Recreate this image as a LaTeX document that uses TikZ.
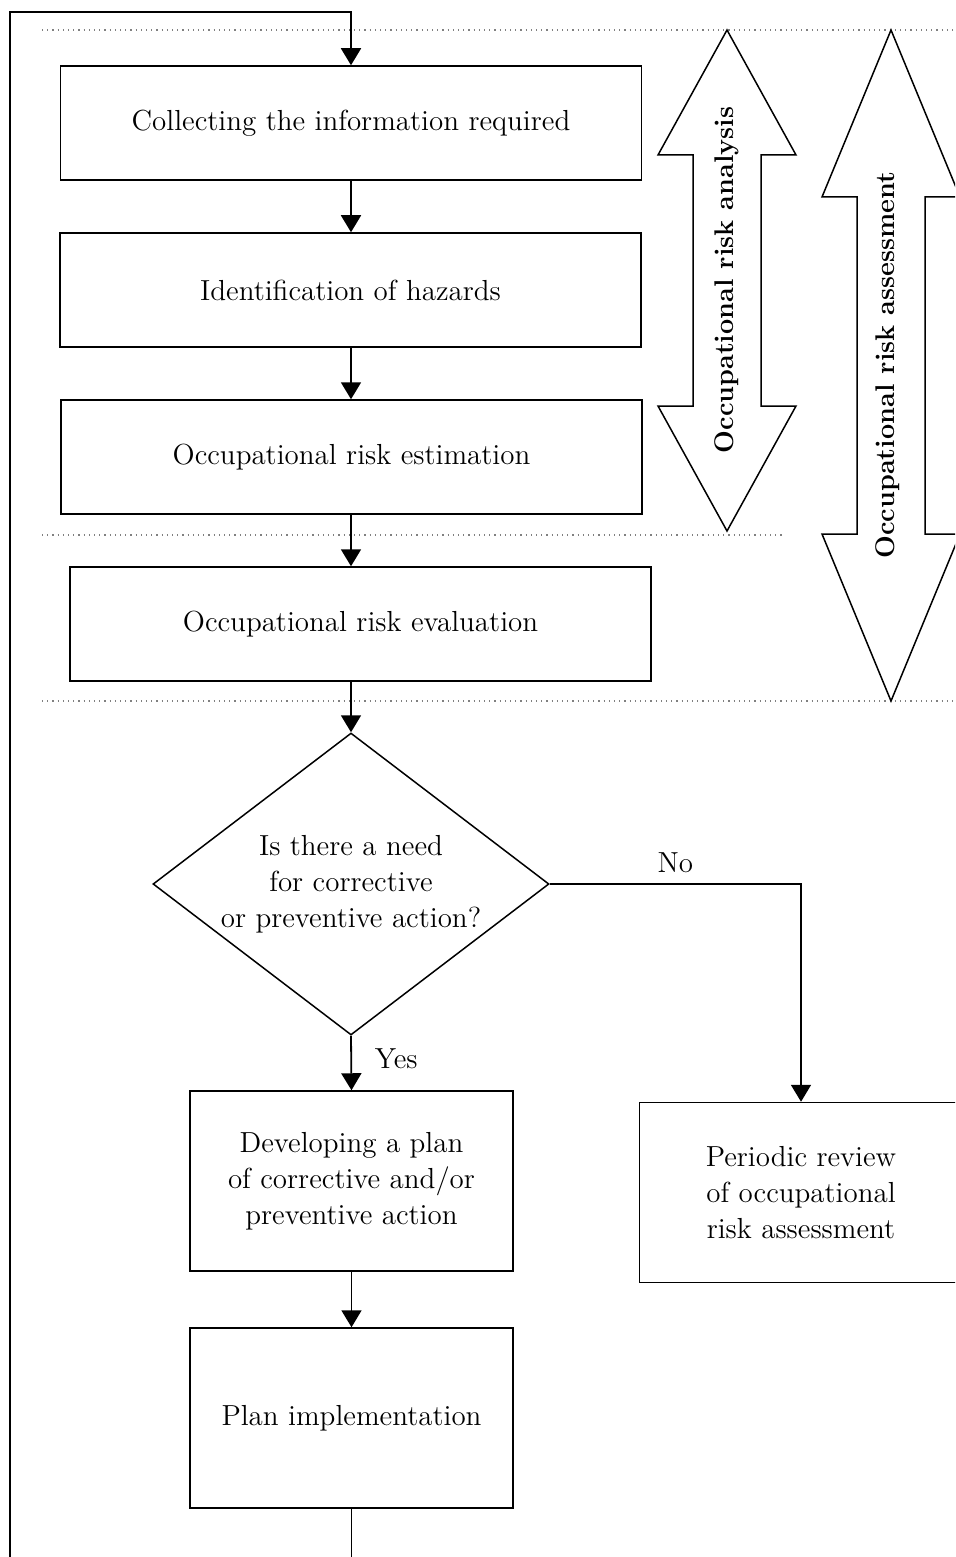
\documentclass[tikz,border=0pt]{standalone}
\usepackage{tikz}
\usetikzlibrary{shapes.geometric,arrows.meta}

\begin{document}
\begin{tikzpicture}[x=0.5pt,y=-0.5pt,
    box/.style={draw,line width=0.75pt,minimum width=290.5pt,minimum height=57pt,
      align=center,font=\fontsize{14.5}{18}\selectfont},
    tallbox/.style={box,minimum width=161.5pt,minimum height=90pt},
    decision/.style={draw,diamond,line width=0.75pt,aspect=1.31,inner sep=0pt,
      minimum width=198pt,minimum height=151pt,align=center,
      font=\fontsize{14.5}{18}\selectfont},
    flow/.style={line width=0.9pt,-{Triangle[width=10pt,length=8.5pt]}},
    band/.style={draw,line width=0.75pt,line join=miter},
    bandtext/.style={rotate=90,font=\fontsize{13.5}{16}\selectfont\bfseries},
    sep/.style={dotted,gray,line width=0.6pt},
    lbl/.style={font=\fontsize{14.5}{18}\selectfont}]
  \useasboundingbox (0,0) rectangle (955,1557);
  \clip (0,0) rectangle (955,1557);
  % Separators
  \draw[sep] (42,30) -- (955,30);
  \draw[sep] (42,535) -- (785,535);
  \draw[sep] (42,701) -- (955,701);
  % Steps
  \node[box] (collect) at (351,123) {Collecting the information required};
  \node[box] (ident) at (350.5,290) {Identification of hazards};
  \node[box] (estim) at (351.5,457) {Occupational risk estimation};
  \node[box] (eval) at (360.5,624) {Occupational risk evaluation};
  \node[decision] (need) at (351,884) {Is there a need\\for corrective\\or preventive action?};
  \node[tallbox] (dev) at (351.5,1181) {Developing a plan\\of corrective and/or\\preventive action};
  \node[tallbox] (impl) at (351.5,1418) {Plan implementation};
  \node[tallbox] (review) at (801,1192.5) {Periodic review\\of occupational\\risk assessment};
  % Analysis span
  \draw[band] (727,30) -- (796,155) -- (761,155) -- (761,406) -- (796,406) -- (727,531)
    -- (658,406) -- (693,406) -- (693,155) -- (658,155) -- cycle;
  \node[bandtext] (analysis) at (727,280) {Occupational risk analysis};
  % Assessment span
  \draw[band] (891,30) -- (960,197) -- (925,197) -- (925,534) -- (960,534) -- (891,701)
    -- (822,534) -- (857,534) -- (857,197) -- (822,197) -- cycle;
  \node[bandtext] (assessment) at (888,365) {Occupational risk assessment};
  % Connectors
  \draw[flow] (collect.south) -- (collect.south |- ident.north);
  \draw[flow] (collect.south |- ident.south) -- (collect.south |- estim.north);
  \draw[flow] (collect.south |- estim.south) -- (collect.south |- eval.north);
  \draw[flow] (need.north |- eval.south) -- (need.north);
  \draw[flow] (need.south) -- node[lbl,right=8pt,yshift=2pt] {Yes} (dev.north);
  \draw[flow] (need.east) -| node[lbl,pos=0.25,above=2pt] {No} (review.north);
  \draw[flow] (dev.south) -- (impl.north);
  % Feedback loop
  \draw[flow] (impl.south) -- ++(0,100) -| (10,12) -| (collect.north);
\end{tikzpicture}
\end{document}
